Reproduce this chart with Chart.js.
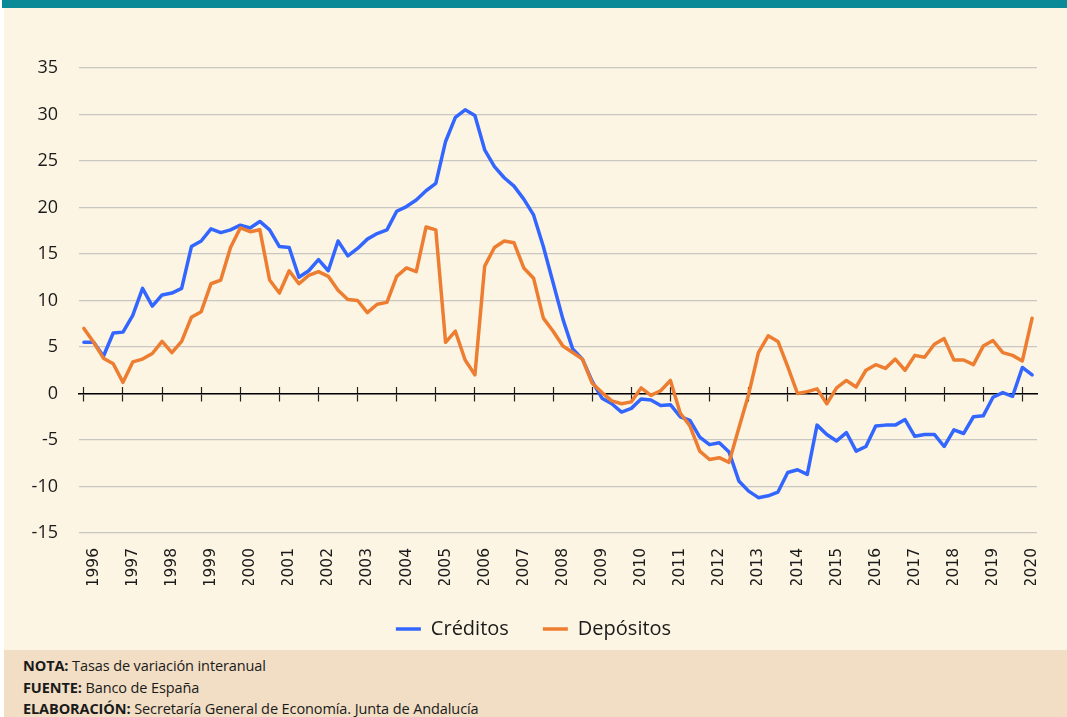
<!DOCTYPE html>
<html lang="es">
<head>
<meta charset="utf-8">
<title>Créditos y Depósitos</title>
<script src="https://cdn.jsdelivr.net/npm/chart.js@4.4.1/dist/chart.umd.min.js"></script>
<style>
  html, body { margin: 0; padding: 0; background: #ffffff; }
  #wrap { position: relative; width: 1067px; height: 717px; overflow: hidden; }
  .bar { position: absolute; left: 2px; right: 0; top: 0; height: 8px; background: #0a8a96; }
  .paper { position: absolute; left: 4px; right: 0; top: 8px; height: 642px; background: #fdf5e3; }
  #chart { position: absolute; left: 0; top: 8px; }
  .foot {
    position: absolute; left: 4px; right: 0; top: 650px; bottom: 0;
    background: #f1dec4; padding: 5px 0 0 19px; box-sizing: border-box;
    font-family: "Open Sans", sans-serif; font-size: 14.5px; line-height: 21.5px; color: #1a1a1a;
    letter-spacing: -0.1px;
  }
  .foot b { font-weight: 700; }
</style>
</head>
<body>
<div id="wrap">
  <div class="bar"></div>
  <div class="paper"></div>
  <canvas id="chart" width="1067" height="642"></canvas>
  <div class="foot">
    <div><b>NOTA:</b> Tasas de variación interanual</div>
    <div><b>FUENTE:</b> Banco de España</div>
    <div><b>ELABORACIÓN:</b> Secretaría General de Economía. Junta de Andalucía</div>
  </div>
</div>
<script>
// Años del eje y trimestres (1996 T1 - 2020 T2)
const years = [1996, 1997, 1998, 1999, 2000, 2001, 2002, 2003, 2004, 2005, 2006, 2007, 2008,
               2009, 2010, 2011, 2012, 2013, 2014, 2015, 2016, 2017, 2018, 2019, 2020];
const quarters = ['T1', 'T2', 'T3', 'T4'];
const categories = years.flatMap(y => quarters.map(q => q + ' ' + y)).slice(0, 98);

// Tasas de variación interanual (%)
const creditos = [
   5.5,  5.5,  4.0,  6.5,  6.6,  8.4, 11.3,  9.4, 10.6, 10.8, 11.3, 15.8,
  16.4, 17.7, 17.3, 17.6, 18.1, 17.8, 18.5, 17.6, 15.8, 15.7, 12.5, 13.2,
  14.4, 13.2, 16.4, 14.8, 15.6, 16.6, 17.2, 17.6, 19.6, 20.1, 20.8, 21.8,
  22.6, 27.1, 29.7, 30.5, 29.9, 26.2, 24.4, 23.2, 22.3, 20.9, 19.2, 15.8,
  11.9,  8.0,  4.8,  3.7,  1.3, -0.5, -1.1, -2.0, -1.6, -0.6, -0.7, -1.3,
  -1.2, -2.5, -2.9, -4.7, -5.5, -5.3, -6.3, -9.4, -10.5, -11.2, -11.0, -10.6,
  -8.5, -8.2, -8.7, -3.4, -4.4, -5.1, -4.2, -6.2, -5.7, -3.5, -3.4, -3.4,
  -2.8, -4.6, -4.4, -4.4, -5.7, -3.9, -4.3, -2.5, -2.4, -0.4,  0.1, -0.3,
   2.8,  2.0
];
const depositos = [
   7.0,  5.5,  3.8,  3.2,  1.2,  3.4,  3.7,  4.3,  5.6,  4.4,  5.6,  8.2,
   8.8, 11.8, 12.2, 15.7, 17.8, 17.4, 17.6, 12.2, 10.8, 13.2, 11.8, 12.7,
  13.1, 12.6, 11.1, 10.1, 10.0,  8.7,  9.6,  9.8, 12.6, 13.5, 13.1, 17.9,
  17.6,  5.5,  6.7,  3.6,  2.0, 13.7, 15.7, 16.4, 16.2, 13.5, 12.4,  8.1,
   6.7,  5.1,  4.4,  3.7,  1.1,  0.1, -0.8, -1.1, -0.9,  0.6, -0.2,  0.3,
   1.4, -2.1, -3.5, -6.2, -7.1, -6.9, -7.4, -3.7, -0.1,  4.4,  6.2,  5.6,
   2.9,  0.0,  0.2,  0.5, -1.1,  0.6,  1.4,  0.7,  2.5,  3.1,  2.7,  3.7,
   2.5,  4.1,  3.9,  5.3,  5.9,  3.6,  3.6,  3.1,  5.1,  5.7,  4.4,  4.1,
   3.5,  8.1
];

const azul = '#3366ff';
const naranja = '#ed7d31';
const texto = '#1a1a1a';

// marca de eje solo en el inicio de cada año
const yearMark = ctx => (ctx.index !== undefined && ctx.index % 4 === 0) ? '#222222' : 'rgba(0,0,0,0)';

new Chart(document.getElementById('chart'), {
  type: 'line',
  data: {
    labels: categories,
    datasets: [
      { label: 'Créditos', data: creditos, borderColor: azul, backgroundColor: azul,
        borderWidth: 3.5, pointRadius: 0, tension: 0, borderJoinStyle: 'round', borderCapStyle: 'round', order: 1 },
      { label: 'Depósitos', data: depositos, borderColor: naranja, backgroundColor: naranja,
        borderWidth: 3.5, pointRadius: 0, tension: 0, borderJoinStyle: 'round', borderCapStyle: 'round', order: 0 }
    ]
  },
  options: {
    responsive: false,
    animation: false,
    layout: { padding: { left: 30, right: 30, top: 60, bottom: 1 } },
    plugins: {
      tooltip: { enabled: false },
      legend: {
        position: 'bottom',
        labels: {
          usePointStyle: true, pointStyle: 'line', pointStyleWidth: 25,
          padding: 34, color: texto,
          font: { family: 'Open Sans', size: 20 },
          sort: (a, b) => a.datasetIndex - b.datasetIndex
        }
      }
    },
    scales: {
      x: {
        type: 'category', offset: true, position: 'bottom',
        grid: { display: false, drawTicks: false },
        border: { display: false },
        ticks: {
          autoSkip: false, maxRotation: 90, minRotation: 90, padding: 15, color: texto,
          font: { family: 'DejaVu Sans', size: 15.5 },
          callback: (v, i) => i % 4 === 1 ? String(years[(i - 1) / 4]) : ''
        },
        afterFit: s => { s.height = 52; }
      },
      xd: {
        type: 'category', offset: true, position: { y: 0 },
        ticks: { display: false },
        grid: { drawOnChartArea: false, tickLength: 7, tickWidth: 1.2, tickColor: yearMark },
        border: { display: true, color: '#000000', width: 1.5 }
      },
      xu: {
        type: 'category', offset: true, position: { y: 0 },
        ticks: { display: false },
        grid: { drawOnChartArea: false, tickLength: -7, tickWidth: 1.2, tickColor: yearMark },
        border: { display: false }
      },
      y: {
        min: -15, max: 35,
        ticks: { stepSize: 5, padding: 21, color: texto, font: { family: 'Open Sans', size: 18 } },
        grid: { color: '#c9c7c2', lineWidth: 1.2, drawTicks: false },
        border: { display: false },
        afterFit: s => { s.width = 49; }
      }
    }
  }
});
</script>
</body>
</html>
